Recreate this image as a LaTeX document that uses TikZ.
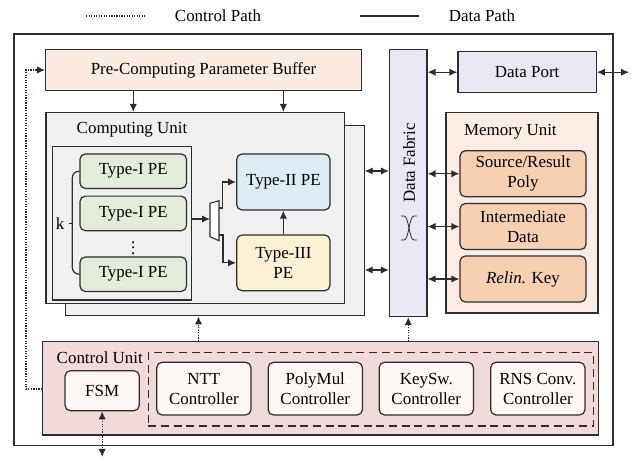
\documentclass[tikz,border=0pt]{standalone}
\usepackage{fontspec}
\setmainfont{Liberation Serif}
\usetikzlibrary{arrows.meta}

\definecolor{linec}{RGB}{45,45,45}
\definecolor{prefill}{RGB}{251,235,226}
\definecolor{cufill}{RGB}{240,240,240}
\definecolor{peonefill}{RGB}{227,236,219}
\definecolor{petwofill}{RGB}{221,235,243}
\definecolor{pethreefill}{RGB}{253,241,211}
\definecolor{fabfill}{RGB}{233,231,241}
\definecolor{memfill}{RGB}{252,237,228}
\definecolor{memitem}{RGB}{247,208,177}
\definecolor{ctlfill}{RGB}{240,218,218}
\definecolor{ctlitem}{RGB}{253,247,246}

\tikzset{every picture/.style={line width=0.9pt}}
\tikzset{
  every node/.style={font=\fontsize{12.7pt}{15pt}\selectfont, text=black},
  blk/.style={draw=linec, rectangle, inner sep=0pt},
  rblk/.style={blk, rounded corners=4pt, align=center},
  dat/.style={draw=linec, -{Latex[length=6pt,width=5.5pt]}},
  dbl/.style={draw=linec, {Latex[length=6pt,width=5.5pt]}-{Latex[length=6pt,width=5.5pt]}},
  ctl/.style={draw=linec, densely dotted, -{Latex[length=6pt,width=5.5pt]}},
  ctldbl/.style={draw=linec, densely dotted, {Latex[length=6pt,width=5.5pt]}-{Latex[length=6pt,width=5.5pt]}}
}

\begin{document}
\begin{tikzpicture}[x=0.75pt,y=0.75pt,yscale=-1,xscale=1]
	\useasboundingbox (0,0) rectangle (637,459);
	% Legend
	\coordinate (lgca) at (86,16);
	\coordinate (lgcb) at (146,16);
	\draw[draw=linec, densely dotted] (lgca) -- (lgcb);
	\node (lgctext) at (218,16) {Control Path};
	\coordinate (lgda) at (360,16);
	\coordinate (lgdb) at (419,16);
	\draw[draw=linec] (lgda) -- (lgdb);
	\node (lgdtext) at (482,16) {Data Path};
	% Chip outline
	\node[blk, fill=white, minimum width=449.25pt, minimum height=308.6pt] (chip) at (313.5,239.75) {};
	% Pre-computing buffer
	\node[blk, fill=prefill, minimum width=236.7pt, minimum height=31pt] (pre) at (203.5,70) {Pre-Computing Parameter Buffer};
	% Data fabric and port
	\node[blk, fill=fabfill, minimum width=28.1pt, minimum height=200.4pt] (fab) at (408.25,182.9) {};
	\node[rotate=90] (fabtext) at (409,163) {Data Fabric};
	\draw[line width=0.6pt, draw=linec] (401,216) -- (404,216) .. controls (409,216) and (409,240) .. (414,240) -- (417,240);
	\draw[line width=0.6pt, draw=linec] (417,216) -- (414,216) .. controls (409,216) and (409,240) .. (404,240) -- (401,240);
	\node[blk, fill=fabfill, minimum width=103.7pt, minimum height=30.75pt] (port) at (527.15,72.2) {Data Port};
	\coordinate (ext) at (629,72.2);
	% Computing unit
	\node[blk, fill=cufill, minimum width=223.9pt, minimum height=142.9pt] (cub) at (214.85,220.5) {};
	\node[blk, fill=cufill, minimum width=223.9pt, minimum height=142.9pt] (cu) at (195.35,207.85) {};
	\node[anchor=west] (cutext) at (71.7,130) {Computing Unit};
	\node[blk, fill=cufill, minimum width=104.4pt, minimum height=115pt] (grp) at (122.1,223.35) {};
	\node[rblk, fill=peonefill, minimum width=79.9pt, minimum height=25.9pt] (pea) at (133.25,171.2) {Type-I PE};
	\node[rblk, fill=peonefill, minimum width=79.9pt, minimum height=25.9pt] (peb) at (133.25,213.4) {Type-I PE};
	\node (dots) at (133.25,244) {$\vdots$};
	\node[rblk, fill=peonefill, minimum width=79.9pt, minimum height=25.9pt] (pec) at (133.25,274.2) {Type-I PE};
	\node (klab) at (60,223.3) {k};
	\coordinate (kbar) at (72.3,223.3);
	\draw[draw=linec, rounded corners=5pt] (pea.west) -| (kbar) |- (pec.west);
	\draw[draw=linec] (klab.east) -- (kbar);
	\node[rblk, fill=petwofill, minimum width=70pt, minimum height=42pt] (petwo) at (283.35,182) {Type-II PE};
	\node[rblk, fill=pethreefill, minimum width=70pt, minimum height=41.8pt] (pethree) at (283.35,262.85) {Type-III\\PE};
	% Demux
	\draw[draw=linec, fill=white, line width=0.8pt] (210,203.3) -- (219,200.7) -- (219,240.7) -- (210,236.7) -- cycle;
	\coordinate (muxin) at (210,219);
	\coordinate (muxa) at (219,208);
	\coordinate (muxb) at (219,235);
	\draw[dat] (grp.east |- muxin) -- (muxin);
	\draw[dat] (muxa) -- (222.5,208) |- (petwo.west);
	\draw[dat] (muxb) -- (223,235) |- (pethree.west);
	\draw[dat] (pethree.north) -- (petwo.south);
	\draw[dat] (pre.south -| pea) -- (cu.north -| pea);
	\draw[dat] (pre.south -| petwo) -- (cu.north -| petwo);
	% Memory unit
	\node[blk, fill=memfill, minimum width=114pt, minimum height=150.2pt] (mem) at (522,212.85) {};
	\node[anchor=west] (memtext) at (459,132) {Memory Unit};
	\node[rblk, fill=memitem, minimum width=94.5pt, minimum height=34.5pt] (mema) at (523,173.75) {Source/Result\\Poly};
	\node[rblk, fill=memitem, minimum width=94.5pt, minimum height=34.5pt] (memb) at (523,226.55) {Intermediate\\Data};
	\node[rblk, fill=memitem, minimum width=94.5pt, minimum height=34.5pt] (memc) at (523,279) {\textit{Relin.} Key};
	% Data links
	\coordinate (fya) at (0,171);
	\coordinate (fyb) at (0,270);
	\draw[dbl] (cub.east |- fya) -- (fab.west |- fya);
	\draw[dbl] (cub.east |- fyb) -- (fab.west |- fyb);
	\draw[dbl] (fab.east |- mema.west) -- (mema.west);
	\draw[dbl] (fab.east |- memb.west) -- (memb.west);
	\draw[dbl] (fab.east |- memc.west) -- (memc.west);
	\draw[dbl] (fab.east |- port.west) -- (port.west);
	\draw[dbl] (port.east) -- (ext);
	% Control unit
	\node[blk, fill=ctlfill, minimum width=416.7pt, minimum height=70pt] (ctl) at (320.5,388.35) {};
	\node[anchor=west] (ctltext) at (51.7,358) {Control Unit};
	\node[blk, dash pattern=on 6pt off 3.5pt, minimum width=333.75pt, minimum height=55pt] (ctlgrp) at (370.8,389.35) {};
	\node[rblk, fill=ctlitem, minimum width=55.7pt, minimum height=30pt] (fsm) at (102.15,390.7) {FSM};
	\node[rblk, fill=ctlitem, minimum width=70.7pt, minimum height=39.5pt] (ntt) at (203.85,388.65) {NTT\\Controller};
	\node[rblk, fill=ctlitem, minimum width=70.7pt, minimum height=39.5pt] (pmul) at (315.3,388.65) {PolyMul\\Controller};
	\node[rblk, fill=ctlitem, minimum width=70.7pt, minimum height=39.5pt] (ksw) at (426.3,388.65) {KeySw.\\Controller};
	\node[rblk, fill=ctlitem, minimum width=70.7pt, minimum height=39.5pt] (rns) at (537.85,388.65) {RNS Conv.\\Controller};
	% Control links
	\coordinate (cux) at (198.5,0);
	\coordinate (fsmout) at (102.15,457);
	\coordinate (loopx) at (26,0);
	\coordinate (loopy) at (0,389);
	\draw[ctl] (ctl.north -| cux) -- (cub.south -| cux);
	\draw[ctl] (ctl.north -| fab) -- (fab.south);
	\draw[ctldbl] (fsm.south) -- (fsmout);
	\draw[ctl] (ctl.west |- loopy) -| (loopx |- pre.west) -- (pre.west);
\end{tikzpicture}
\end{document}
